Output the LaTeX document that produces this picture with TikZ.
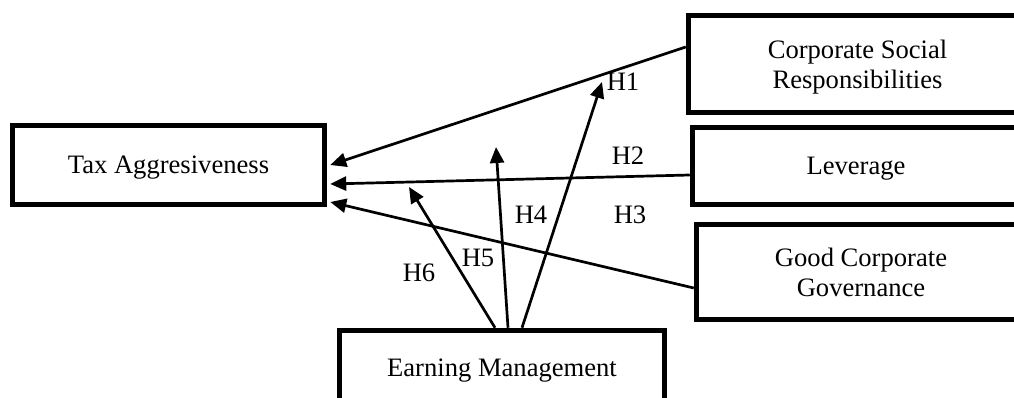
\documentclass[tikz,border=0pt]{standalone}
\usepackage{fontspec}
\setmainfont{Liberation Serif}
\usetikzlibrary{arrows.meta}
\tikzset{
  var/.style={draw,line width=5.5pt,inner sep=0pt,align=center,text depth=0pt,font=\fontsize{26.6}{30}\selectfont},
  link/.style={line width=2.7pt,-{Triangle[length=16pt,width=14pt]}},
  hyp/.style={font=\fontsize{26.6}{30}\selectfont}
}
\begin{document}
\begin{tikzpicture}[x=1pt,y=-1pt]
            \clip (0,0) rectangle (1014,398);
            \node[var,minimum width=312pt,minimum height=79pt] (tax) at (168.5,165) {Tax Aggresiveness};
            \node[var,minimum width=338pt,minimum height=97pt] (csr) at (857.5,64) {Corporate Social\\Responsibilities};
            \node[var,minimum width=327pt,minimum height=77pt] (lev) at (856,166) {Leverage};
            \node[var,minimum width=329pt,minimum height=95pt] (gcg) at (861,272) {Good Corporate\\Governance};
            \node[var,minimum width=325pt,minimum height=75pt] (em) at (502,368) {Earning Management};

            \coordinate (t6) at (409,187);
            \coordinate (t5) at (496,147);
            \coordinate (t4) at (602,82);

            \draw[link] ([yshift=17pt]csr.west)--([xshift=3pt]tax.east);
            \draw[link] ([yshift=-9pt]lev.west)--([xshift=3pt,yshift=-19pt]tax.east);
            \draw[link] ([yshift=-16pt]gcg.west)--([xshift=3pt,yshift=-37pt]tax.east);

            \draw[link] ([xshift=-7pt]em.north)--(t6);
            \draw[link] ([xshift=6pt]em.north)--(t5);
            \draw[link] ([xshift=20pt]em.north)--(t4);

            \node[hyp] (h1) at (623,82) {H1};
            \node[hyp] (h2) at (628,156) {H2};
            \node[hyp] (h3) at (630,215) {H3};
            \node[hyp] (h4) at (531,215) {H4};
            \node[hyp] (h5) at (478,258) {H5};
            \node[hyp] (h6) at (419,273) {H6};
        \end{tikzpicture}
\end{document}
